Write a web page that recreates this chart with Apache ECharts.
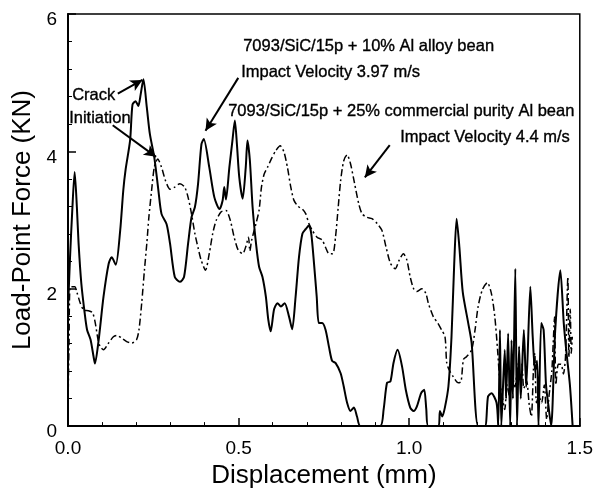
<!DOCTYPE html>
<html>
<head>
<meta charset="utf-8">
<script src="https://cdn.jsdelivr.net/npm/echarts@6/dist/echarts.min.js"></script>
<style>html,body{margin:0;padding:0;background:#fff}#c{width:596px;height:494px}</style>
</head>
<body>
<div id="c"></div>
<script>
// 7093/SiC/15p + 10% Al alloy bean, impact velocity 3.97 m/s (solid)
const alloyX = [0,0.006,0.012,0.0195,0.026,0.031,0.039,0.049,0.056,0.066,0.075,0.079,0.09,0.104,0.119,0.128,0.14,0.153,0.162,0.169,0.182,0.189,0.198,0.206,0.213,0.221,0.231,0.24,0.253,0.265,0.274,0.289,0.299,0.313,0.328,0.34,0.352,0.362,0.372,0.381,0.391,0.398,0.414,0.429,0.444,0.453,0.458,0.463,0.473,0.482,0.489,0.495,0.502,0.512,0.521,0.526,0.533,0.541,0.551,0.56,0.57,0.58,0.587,0.594,0.604,0.614,0.624,0.635,0.648,0.657,0.667,0.677,0.687,0.697,0.706,0.713,0.721,0.729,0.735,0.745,0.755,0.765,0.774,0.784,0.799,0.808,0.818,0.828,0.838,0.847,0.857,0.915,0.925,0.935,0.945,0.954,0.966,0.979,0.99,1.003,1.013,1.022,1.035,1.044,1.05,1.056,1.086,1.09,1.097,1.105,1.115,1.124,1.132,1.139,1.147,1.157,1.173,1.183,1.202,1.222,1.231,1.241,1.256,1.261,1.266,1.27,1.28,1.284,1.29,1.296,1.3,1.304,1.311,1.316,1.322,1.327,1.336,1.343,1.355,1.362,1.369,1.375,1.379,1.387,1.394,1.401,1.408,1.416,1.428,1.443,1.453,1.461,1.471,1.479];
const alloyY = [1.7,2.46,3.09,3.70,3.19,2.66,2.08,1.64,1.40,1.26,1.01,0.91,1.26,1.88,2.36,2.46,2.35,2.85,3.43,3.74,4.16,4.68,4.73,4.66,4.83,5.05,4.64,4.25,3.91,3.43,3.09,2.94,2.66,2.17,2.10,2.17,2.66,3.04,3.19,3.52,4.10,4.18,3.77,3.33,3.16,3.28,3.48,3.30,3.77,4.16,4.45,4.11,3.62,3.31,3.77,4.16,3.87,3.19,2.66,2.32,2.17,1.88,1.55,1.38,1.70,1.79,1.74,1.79,1.59,1.41,1.88,2.46,2.80,2.87,2.92,2.80,2.37,1.88,1.50,1.50,1.40,1.15,0.95,0.92,0.77,0.58,0.34,0.22,0.27,0.14,0,0,0.24,0.63,0.65,0.92,1.11,0.87,0.53,0.27,0.22,0.28,0.48,0.53,0.25,0,0,0.22,0.14,0.28,0.58,1.30,2.37,3.02,2.61,1.95,1.50,1.21,0,0,0.43,0.48,0.34,0,1.40,0,1.11,0.40,1.35,0,1.25,0.40,2.29,0,1.16,0.40,1.40,0.57,2.03,1.30,0.80,0.95,0,1.50,1.40,0.60,0.30,0,1.40,2.27,1.50,1.07,0.60,0];

// 7093/SiC/15p + 25% commercial purity Al bean, impact velocity 4.4 m/s (dash-dot)
const pureX = [0,0.003,0.007,0.02,0.026,0.036,0.046,0.06,0.072,0.08,0.088,0.094,0.104,0.119,0.133,0.143,0.158,0.172,0.187,0.201,0.208,0.216,0.224,0.231,0.237,0.245,0.253,0.263,0.274,0.286,0.299,0.313,0.328,0.342,0.352,0.362,0.372,0.381,0.39,0.403,0.414,0.424,0.434,0.449,0.463,0.476,0.487,0.499,0.512,0.521,0.529,0.533,0.538,0.551,0.56,0.567,0.575,0.585,0.596,0.609,0.622,0.633,0.643,0.653,0.662,0.674,0.687,0.697,0.706,0.716,0.73,0.745,0.755,0.765,0.776,0.784,0.792,0.799,0.808,0.818,0.828,0.84,0.852,0.862,0.876,0.891,0.906,0.92,0.932,0.945,0.959,0.971,0.983,0.993,1.003,1.013,1.022,1.037,1.049,1.056,1.071,1.084,1.095,1.105,1.11,1.117,1.129,1.144,1.152,1.159,1.168,1.183,1.193,1.202,1.214,1.229,1.241,1.251,1.259,1.266,1.272,1.28,1.287,1.294,1.3,1.31,1.319,1.329,1.336,1.344,1.352,1.358,1.364,1.368,1.373,1.38,1.388,1.396,1.403,1.41,1.418,1.422,1.426,1.43,1.437,1.445,1.452,1.458,1.465,1.468,1.472,1.475,1.478];
const pureY = [0.3,1.2,2.03,2.03,1.95,1.79,1.69,1.68,1.65,1.50,1.26,1.16,1.11,1.21,1.30,1.32,1.28,1.23,1.21,1.26,1.40,1.79,2.27,2.66,3.04,3.43,3.77,3.89,3.77,3.57,3.45,3.48,3.53,3.48,3.33,3.09,2.80,2.60,2.42,2.27,2.51,2.80,2.99,3.12,3.14,2.99,2.75,2.56,2.51,2.61,2.75,2.55,2.70,2.95,3.14,3.48,3.67,3.77,3.89,4.01,4.08,3.99,3.77,3.48,3.29,3.20,3.16,3.09,2.95,2.85,2.75,2.71,2.60,2.51,2.51,2.75,3.19,3.57,3.86,3.95,3.82,3.53,3.24,3.09,3.04,3.02,2.95,2.85,2.61,2.37,2.29,2.42,2.51,2.42,2.17,2.00,1.96,2.00,1.93,1.79,1.59,1.50,1.40,1.30,0.92,0.82,0.72,0.63,0.65,0.97,1.01,1.11,1.40,1.74,1.98,2.09,1.93,1.59,1.11,0.63,0.45,0.24,0.60,0.43,0.78,0.57,0.90,0.92,0.55,0.66,0.30,0.14,0.80,1.06,0.34,0.43,0.34,0.60,0.10,0.45,0.80,1.20,1.59,0.60,0.90,0.90,0.76,1.00,2.17,1.00,1.70,1.06,1.30];

const xTicks = [0, 0.5, 1.0, 1.5];
const yTicks = [0, 2, 4, 6];

const pair = (xs, ys) => xs.map((x, i) => [x, ys[i]]);
const F = '"Liberation Sans", Arial, sans-serif';

const arrows = [
  [[0.146, 4.84], [0.218, 5.04]],
  [[0.131, 4.38], [0.258, 3.92]],
  [[0.499, 5.07], [0.403, 4.30]],
  [[0.943, 4.09], [0.870, 3.62]]
];

const txt = (opts, s) => Object.assign({type: 'text', style: {text: s, font: '16.5px ' + F, fill: '#000', stroke: '#000', lineWidth: 0.35}}, opts);

const chart = echarts.init(document.getElementById('c'));
chart.setOption({
  animation: false,
  backgroundColor: '#fff',
  grid: {left: 68, right: 14, top: 14, bottom: 64, show: true, borderColor: '#000', borderWidth: 1.5, backgroundColor: 'transparent'},
  xAxis: {
    type: 'value', min: xTicks[0], max: xTicks[xTicks.length - 1], interval: 0.5,
    name: 'Displacement (mm)', nameLocation: 'middle', nameGap: 30,
    nameTextStyle: {fontFamily: F, fontSize: 26, color: '#000'},
    axisLine: {lineStyle: {color: '#000', width: 2}},
    axisTick: {inside: true, length: 8, lineStyle: {color: '#000', width: 1.5}},
    minorTick: {show: true, splitNumber: 5, length: 4, lineStyle: {color: '#000', width: 1}},
    axisLabel: {fontFamily: F, fontSize: 19, color: '#000', margin: 13, formatter: v => v.toFixed(1)},
    splitLine: {show: false}
  },
  yAxis: {
    type: 'value', min: yTicks[0], max: yTicks[yTicks.length - 1], interval: 2,
    name: 'Load-Point Force (KN)', nameLocation: 'middle', nameGap: 21,
    nameTextStyle: {fontFamily: F, fontSize: 26, color: '#000'},
    axisLine: {lineStyle: {color: '#000', width: 2}},
    axisTick: {inside: true, length: 8, lineStyle: {color: '#000', width: 1.5}},
    minorTick: {show: true, splitNumber: 5, length: 4, lineStyle: {color: '#000', width: 1}},
    axisLabel: {fontFamily: F, fontSize: 19, color: '#000', margin: 11, verticalAlign: 'top', lineHeight: 12},
    splitLine: {show: false}
  },
  series: [
    {type: 'line', data: pair(alloyX, alloyY), showSymbol: false, smooth: 0.25,
     lineStyle: {color: '#000', width: 2}},
    {type: 'line', data: pair(pureX, pureY), showSymbol: false, smooth: 0.25,
     lineStyle: {color: '#000', width: 1.5, type: [7, 3, 2, 3]}},
    {type: 'line', data: [], markLine: {
      silent: true, symbol: ['none', 'arrow'], symbolSize: [9, 12], label: {show: false},
      lineStyle: {color: '#000', width: 2, type: 'solid'},
      data: arrows.map(a => [{coord: a[0]}, {coord: a[1]}])
    }}
  ],
  graphic: [
    txt({left: 243, top: 38}, '7093/SiC/15p + 10% Al alloy bean'),
    txt({left: 241, top: 64}, 'Impact Velocity 3.97 m/s'),
    txt({left: 228, top: 103}, '7093/SiC/15p + 25% commercial purity Al bean'),
    txt({right: 26, top: 129}, 'Impact Velocity 4.4 m/s'),
    txt({left: 72, top: 87}, 'Crack'),
    txt({left: 69, top: 110}, 'Initiation')
  ]
});
</script>
</body>
</html>
